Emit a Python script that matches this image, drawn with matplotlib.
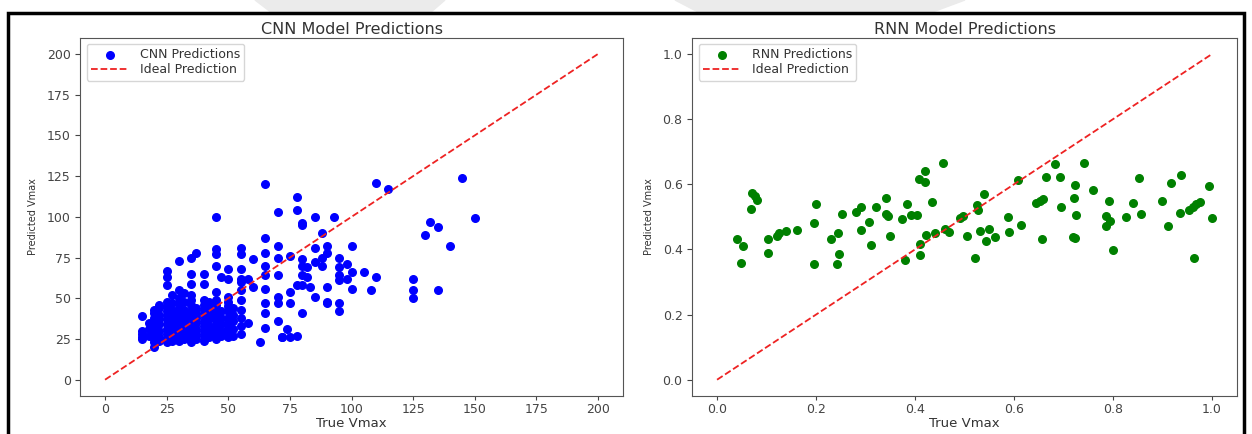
import matplotlib
matplotlib.use('Agg')
import matplotlib.pyplot as plt
from matplotlib.patches import Rectangle, Polygon

# Valores: modelo CNN (True Vmax, Predicted Vmax)
cnn_true = [
    15, 15, 15, 15, 15,
    18, 18, 18,
    20, 20, 20, 20, 20, 20, 20, 20, 20, 20,
    22, 22, 22, 22, 22, 22, 22, 22,
    25, 25, 25, 25, 25, 25, 25, 25, 25, 25, 25, 25, 25,
    27, 27, 27, 27, 27, 27, 27, 27, 27,
    30, 30, 30, 30, 30, 30, 30, 30, 30, 30, 30, 30,
    32, 32, 32, 32, 32, 32, 32, 32, 32,
    35, 35, 35, 35, 35, 35, 35, 35, 35, 35, 35, 35, 35,
    37, 37, 37, 37, 37, 37, 37, 37,
    40, 40, 40, 40, 40, 40, 40, 40, 40, 40, 40,
    42, 42, 42, 42, 42, 42, 42,
    45, 45, 45, 45, 45, 45, 45, 45, 45, 45, 45, 45, 45, 45,
    47, 47, 47, 47, 47, 47,
    50, 50, 50, 50, 50, 50, 50, 50, 50, 50, 50,
    52, 52, 52, 52, 52,
    55, 55, 55, 55, 55, 55, 55, 55, 55, 55, 55,
    58, 58, 60, 60,
    63, 65, 65, 65, 65, 65, 65, 65, 65, 65,
    70, 70, 70, 70, 70, 70, 70, 72, 72,
    74, 75, 75, 75, 75, 78, 78, 78, 78,
    80, 80, 80, 80, 80, 80, 80, 82, 82, 83,
    85, 85, 85, 85, 88, 88, 88,
    90, 90, 90, 90, 90, 93,
    95, 95, 95, 95, 95, 95, 98, 98,
    100, 100, 100, 105, 108, 110, 110, 115,
    125, 125, 125, 130, 132, 135, 135, 140, 145, 150,
]
cnn_pred = [
    39, 30, 28, 26, 25,
    27, 31, 35,
    20, 23, 25, 27, 29, 32, 35, 38, 41, 43,
    24, 26, 30, 34, 37, 40, 44, 46,
    23, 25, 28, 31, 34, 37, 40, 42, 45, 48, 58, 63, 67,
    24, 27, 30, 33, 36, 39, 43, 47, 52,
    24, 26, 29, 32, 35, 38, 41, 44, 47, 50, 55, 73,
    25, 28, 31, 34, 37, 40, 43, 48, 53,
    23, 26, 29, 32, 36, 39, 42, 46, 49, 52, 59, 65, 75,
    25, 28, 31, 35, 38, 41, 44, 78,
    24, 27, 30, 33, 36, 40, 43, 46, 49, 59, 65,
    26, 29, 33, 37, 41, 45, 48,
    25, 28, 31, 34, 37, 40, 43, 46, 49, 54, 70, 77, 80, 100,
    27, 30, 34, 38, 42, 63,
    26, 29, 32, 35, 38, 42, 45, 48, 51, 62, 68,
    27, 31, 36, 40, 44,
    28, 33, 38, 43, 49, 55, 60, 62, 68, 77, 81,
    35, 62, 57, 74,
    23, 120, 87, 78, 70, 64, 56, 47, 41, 32,
    103, 82, 75, 64, 51, 36, 47, 26, 26,
    31, 76, 54, 47, 26, 112, 104, 58, 27,
    96, 95, 74, 70, 41, 64, 58, 69, 63, 57,
    100, 81, 51, 72, 90, 75, 70,
    82, 78, 57, 48, 47, 100,
    75, 69, 64, 47, 42, 61, 71, 62,
    82, 56, 66, 66, 55, 121, 63, 117,
    62, 50, 55, 89, 97, 94, 55, 82, 124, 99,
]

# Valores: modelo RNN (escala normalizada)
rnn_true = [
    0.040, 0.053, 0.049, 0.071, 0.077, 0.080, 0.069, 0.102, 0.103, 0.122,
    0.126, 0.139, 0.161, 0.196, 0.200, 0.196, 0.230, 0.245, 0.247, 0.243,
    0.253, 0.281, 0.291, 0.291, 0.306, 0.312, 0.322, 0.341, 0.342, 0.345,
    0.350, 0.373, 0.383, 0.380, 0.391, 0.403, 0.407, 0.420, 0.420, 0.409,
    0.409, 0.422, 0.434, 0.440, 0.456, 0.460, 0.468, 0.491, 0.497, 0.505,
    0.522, 0.526, 0.528, 0.532, 0.540, 0.544, 0.550, 0.562, 0.587, 0.589,
    0.607, 0.614, 0.644, 0.652, 0.658, 0.656, 0.664, 0.683, 0.693, 0.695,
    0.720, 0.723, 0.724, 0.721, 0.725, 0.742, 0.760, 0.791, 0.786, 0.793,
    0.785, 0.800, 0.826, 0.841, 0.853, 0.856, 0.898, 0.910, 0.918, 0.937,
    0.936, 0.954, 0.962, 0.968, 0.975, 0.963, 0.994, 1.000,
]
rnn_pred = [
    0.431, 0.410, 0.359, 0.573, 0.563, 0.553, 0.524, 0.431, 0.390, 0.441,
    0.451, 0.458, 0.459, 0.480, 0.539, 0.354, 0.431, 0.449, 0.385, 0.356,
    0.510, 0.514, 0.531, 0.461, 0.485, 0.413, 0.531, 0.558, 0.510, 0.504,
    0.441, 0.494, 0.539, 0.369, 0.506, 0.506, 0.617, 0.608, 0.641, 0.417,
    0.383, 0.445, 0.547, 0.451, 0.665, 0.464, 0.453, 0.498, 0.502, 0.441,
    0.374, 0.535, 0.520, 0.456, 0.569, 0.427, 0.463, 0.439, 0.500, 0.455,
    0.612, 0.474, 0.543, 0.550, 0.555, 0.433, 0.623, 0.662, 0.623, 0.530,
    0.439, 0.435, 0.599, 0.557, 0.507, 0.665, 0.581, 0.549, 0.502, 0.487,
    0.473, 0.398, 0.501, 0.543, 0.618, 0.510, 0.548, 0.471, 0.605, 0.630,
    0.512, 0.522, 0.531, 0.539, 0.546, 0.374, 0.594, 0.497,
]

cnn_ideal = [0, 200]
rnn_ideal = [0, 1]

W, H = 1252, 434
fig = plt.figure(figsize=(W / 100, H / 100), dpi=100)
plt.rcParams['text.color'] = '#333333'

# Marco negro de la captura y marca de agua gris de la parte superior
fig.patches.append(Polygon([(255 / W, 1), (445 / W, 1), (430 / W, 1 - 13 / H), (272 / W, 1 - 13 / H)],
                           closed=True, transform=fig.transFigure, color='#ebebeb', zorder=0))
fig.patches.append(Polygon([(675 / W, 1), (965 / W, 1), (930 / W, 1 - 13 / H), (700 / W, 1 - 13 / H)],
                           closed=True, transform=fig.transFigure, color='#ebebeb', zorder=0))
fig.patches.append(Rectangle((8 / W, -0.1), (1244 - 8) / W, 1.1 - 13 / H, transform=fig.transFigure,
                             fill=False, edgecolor='black', linewidth=2.5, zorder=0))

ax1 = fig.add_axes([80.4 / W, 38 / H, 542.2 / W, 358.3 / H])
ax2 = fig.add_axes([692.3 / W, 38 / H, 544.5 / W, 358.3 / H])


def estilo(ax, titulo):
    ax.set_title(titulo, fontsize=11.5, pad=3, color='#333333')
    ax.set_xlabel('True Vmax', fontsize=9.5, labelpad=1, color='#333333')
    ax.set_ylabel('Predicted Vmax', fontsize=7, labelpad=6, color='#333333')
    ax.tick_params(axis='x', labelsize=9, length=3, pad=2, colors='#444444')
    ax.tick_params(axis='y', labelsize=9, colors='#444444')
    for s in ax.spines.values():
        s.set_color('#555555')
    ax.legend(loc='upper left', fontsize=9, labelspacing=0.15, handlelength=3.0,
              borderpad=0.35, handletextpad=0.9)


# Grafico CNN
ax1.scatter(cnn_true, cnn_pred, color='blue', s=30, label='CNN Predictions')
ax1.plot(cnn_ideal, cnn_ideal, '--', color='#ee2222', linewidth=1.3, label='Ideal Prediction')
estilo(ax1, 'CNN Model Predictions')

# Grafico RNN
ax2.scatter(rnn_true, rnn_pred, color='green', s=30, label='RNN Predictions')
ax2.plot(rnn_ideal, rnn_ideal, '--', color='#ee2222', linewidth=1.3, label='Ideal Prediction')
estilo(ax2, 'RNN Model Predictions')

plt.savefig('out.png', dpi=100)
